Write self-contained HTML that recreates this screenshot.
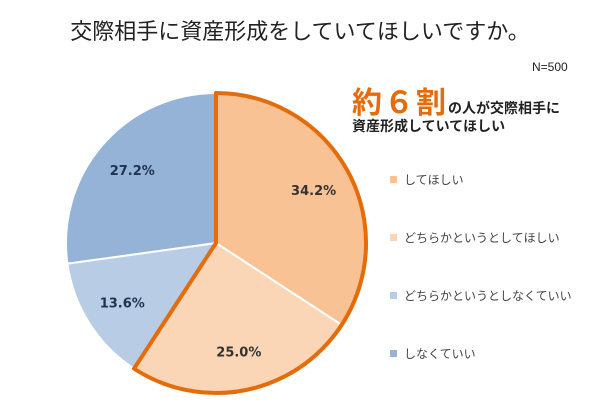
<!DOCTYPE html>
<html><head><meta charset="utf-8"><style>
body{margin:0;background:#fff;}
#c{position:relative;width:600px;height:414px;overflow:hidden;font-family:"Liberation Sans","Noto Sans CJK JP",sans-serif;}
.t{position:absolute;white-space:nowrap;}
</style></head><body>
<div id="c">
<div class="t" style="left:0;width:600px;text-align:center;top:14px;font-size:22px;color:#222;">交際相手に資産形成をしていてほしいですか。</div>
<div class="t" style="left:532px;top:60px;font-size:12px;color:#222;">N=500</div>
<div class="t" style="left:352px;top:78px;font-size:14px;font-weight:bold;color:#222;"><span style="font-size:30px;color:#E46C0A;letter-spacing:2px;">約６割</span>の人が交際相手に</div>
<div class="t" style="left:352px;top:116px;font-size:14px;font-weight:bold;color:#222;">資産形成していてほしい</div>
<svg id="s" width="600" height="414" style="position:absolute;left:0;top:0"></svg>
</div>
<script>
const categories=["してほしい","どちらかというとしてほしい","どちらかというとしなくていい","しなくていい"];
const values=[34.2,25.0,13.6,27.2];
const labels=["34.2%","25.0%","13.6%","27.2%"];
const colors=["#F9C294","#FBD6B6","#B9CCE5","#95B3D7"];
const NS="http://www.w3.org/2000/svg";
const s=document.getElementById('s');
const cx=216,cy=243,r=150;
const total=values.reduce((a,b)=>a+b,0);
function pt(a,rr){return [cx+rr*Math.sin(a),cy-rr*Math.cos(a)];}
let a0=0;const angles=[];
values.forEach((v,i)=>{
 const a1=a0+v/total*2*Math.PI;angles.push([a0,a1]);
 const p0=pt(a0,r),p1=pt(a1,r);
 const p=document.createElementNS(NS,'path');
 p.setAttribute('d',`M${cx},${cy}L${p0[0]},${p0[1]}A${r},${r} 0 ${a1-a0>Math.PI?1:0} 1 ${p1[0]},${p1[1]}Z`);
 p.setAttribute('fill',colors[i]);p.setAttribute('stroke','#fff');p.setAttribute('stroke-width','2');
 
 
 s.appendChild(p);
 const m=(a0+a1)/2,lp=pt(m,r*0.74);
 const t=document.createElementNS(NS,'text');
 t.setAttribute('x',lp[0]);t.setAttribute('y',lp[1]+5);t.setAttribute('text-anchor','middle');
 t.setAttribute('font-size','13');t.setAttribute('font-weight','bold');t.setAttribute('fill',i<2?'#333':'#1F3350');
 t.setAttribute('font-family','"DejaVu Sans",sans-serif');
 t.textContent=labels[i];
 
 
 s.appendChild(t);
 a0=a1;
});
const e=angles[1][1];const q0=pt(0,r),q1=pt(e,r);
const o=document.createElementNS(NS,'path');
o.setAttribute('d',`M${cx},${cy}L${q0[0]},${q0[1]}A${r},${r} 0 ${e>Math.PI?1:0} 1 ${q1[0]},${q1[1]}Z`);
o.setAttribute('fill','none');o.setAttribute('stroke','#E46C0A');o.setAttribute('stroke-width','4');o.setAttribute('stroke-linejoin','round');


s.appendChild(o);
categories.forEach((c,i)=>{
 const y=180+i*58;
 const rc=document.createElementNS(NS,'rect');
 rc.setAttribute('x',390);rc.setAttribute('y',y-4);rc.setAttribute('width',7);rc.setAttribute('height',7);rc.setAttribute('fill',colors[i]);
 
 
 s.appendChild(rc);
 const t=document.createElementNS(NS,'text');
 t.setAttribute('x',404);t.setAttribute('y',y+4);t.setAttribute('font-size','12');t.setAttribute('fill','#444');
 t.setAttribute('font-family','"Liberation Sans","Noto Sans CJK JP",sans-serif');
 t.textContent=c;
 
 
 s.appendChild(t);
});
</script>
</body></html>
